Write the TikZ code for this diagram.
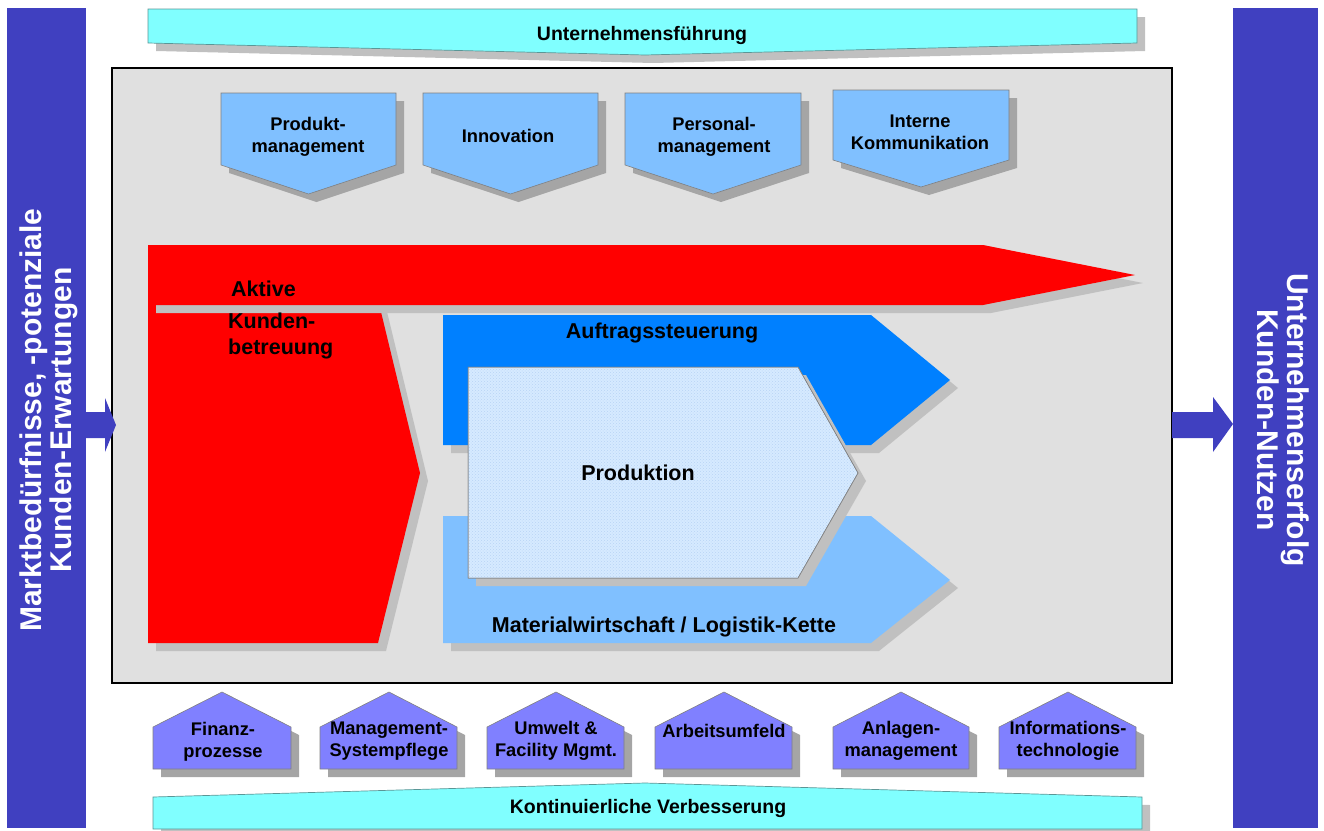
\documentclass[tikz,border=0pt]{standalone}
\usepackage{fontspec}
\setmainfont{Liberation Sans}
\usetikzlibrary{calc,patterns}
\definecolor{barblue}{RGB}{64,64,192}
\definecolor{cyanb}{RGB}{128,255,255}
\definecolor{cyanedge}{RGB}{90,150,150}
\definecolor{boxgray}{RGB}{224,224,224}
\definecolor{lblue}{RGB}{128,192,255}
\definecolor{mblue}{RGB}{0,128,255}
\definecolor{pblue}{RGB}{214,234,255}
\definecolor{pdot}{RGB}{184,212,245}
\definecolor{bpurple}{RGB}{128,128,255}
\definecolor{shadowA}{RGB}{165,165,165}
\definecolor{shadowB}{RGB}{192,192,192}
\definecolor{edgegray}{RGB}{128,128,128}
\definecolor{redA}{RGB}{255,0,0}
\newcommand{\shadowed}[3]{\fill[#1,shift={(8,8)}] #3; \path[#2] #3;}
\newcommand{\downpent}[5]{\shadowed{shadowA}{fill=lblue,draw=edgegray,line width=0.6}{(#1,#3)--(#2,#3)--(#2,#4)--({(#1+#2)/2},#5)--(#1,#4)--cycle}}
\newcommand{\uppent}[3]{\shadowed{shadowA}{fill=bpurple,draw=edgegray,line width=0.6}{(#1,769)--(#1,727)--(#3,692)--(#2,727)--(#2,769)--cycle}}
\tikzset{
  mainlbl/.style={font=\bfseries\fontsize{21.5}{26}\selectfont, align=center, inner sep=0pt},
  pentlbl/.style={font=\bfseries\fontsize{18.3}{22}\selectfont, align=center, inner sep=0pt},
  bannerlbl/.style={font=\bfseries\fontsize{19.5}{24}\selectfont, align=center, inner sep=0pt},
  bartext/.style={font=\bfseries\fontsize{30}{30}\selectfont, align=center, inner sep=0pt, text=white},
  barbox/.style={fill=barblue, inner sep=0pt, minimum width=79, minimum height=820, draw=none}
}
\begin{document}
\begin{tikzpicture}[x=1pt,y=-1pt]
\useasboundingbox (0,0) rectangle (1324,830);
% side bars
\node[barbox] (lbar) at (46.5,418) {};
\node[barbox, minimum width=85] (rbar) at (1275.5,418) {};
\node[bartext, rotate=90] (ltxt) at (48.5,420) {Marktbedürfnisse, -potenziale\\Kunden-Erwartungen};
\node[bartext, rotate=-90] (rtxt) at (1283.5,420) {Unternehmenserfolg\\Kunden-Nutzen};
% top banner
\shadowed{shadowB}{fill=cyanb,draw=cyanedge,line width=0.7}{(148,9)--(1137,9)--(1137,43)--(645,55)--(148,43)--cycle}
\node[bannerlbl] (uf) at (642,35) {Unternehmensführung};
% bottom banner
\shadowed{shadowB}{fill=cyanb,draw=cyanedge,line width=0.7}{(153,797)--(645,783)--(1142,797)--(1142,829)--(153,829)--cycle}
\node[bannerlbl] (kv) at (648,808) {Kontinuierliche Verbesserung};
% main box
\node[fill=boxgray, draw=black, line width=1.5, minimum width=1060, minimum height=615, inner sep=0pt] (box) at (642,375.5) {};
% arrows
\fill[barblue] (86,412)--(105,412)--(105,398)--(116,425)--(105,452)--(105,438)--(86,438)--cycle;
\fill[barblue] (1172,412)--(1213,412)--(1213,397)--(1233,424)--(1213,452)--(1213,438)--(1172,438)--cycle;
% top pentagons
\downpent{221}{396}{93}{165}{194}
\downpent{423}{598}{93}{165}{194}
\downpent{625}{801}{93}{165}{194}
\downpent{833}{1009}{90}{160}{187}
\node[pentlbl] (pm) at (308,137) {Produkt-\\management};
\node[pentlbl] (inn) at (508,136) {Innovation};
\node[pentlbl] (perm) at (714,137) {Personal-\\management};
\node[pentlbl] (ik) at (920,132) {Interne\\Kommunikation};
% red shapes
\shadowed{shadowB}{fill=redA}{(148,250)--(366,250)--(420,473)--(378,643)--(148,643)--cycle}
\shadowed{shadowB}{fill=redA}{(148,245)--(983,245)--(1135,275)--(983,305)--(148,305)--cycle}
\node[mainlbl, anchor=west] (akt) at (231,289) {Aktive};
\node[mainlbl, anchor=west, align=left] (kb) at (228,336) {Kunden-\\betreuung};
% blue shapes
\shadowed{shadowB}{fill=mblue}{(443,315)--(871,315)--(950,380)--(871,445)--(443,445)--cycle}
\shadowed{shadowB}{fill=lblue}{(443,516)--(871,516)--(950,580)--(871,643)--(443,643)--cycle}
\shadowed{shadowB}{fill=pblue,draw=edgegray,line width=0.5}{(468,367)--(798,367)--(858,473)--(798,578)--(468,578)--cycle}
\fill[pattern=crosshatch dots, pattern color=pdot] (468,367)--(798,367)--(858,473)--(798,578)--(468,578)--cycle;
\draw[edgegray,line width=0.5] (468,367)--(798,367)--(858,473)--(798,578)--(468,578)--cycle;
\node[mainlbl] (as) at (662,333) {Auftragssteuerung};
\node[mainlbl] (prod) at (638,473) {Produktion};
\node[mainlbl] (mat) at (664,627) {Materialwirtschaft / Logistik-Kette};
% bottom pentagons
\uppent{153}{291}{222}
\uppent{320}{457}{389}
\uppent{487}{624}{556}
\uppent{655}{792}{724}
\uppent{833}{969}{901}
\uppent{999}{1136}{1068}
\node[pentlbl] (fp) at (223,742) {Finanz-\\prozesse};
\node[pentlbl] (ms) at (389,741) {Management-\\Systempflege};
\node[pentlbl] (uw) at (556,741) {Umwelt \&\\Facility Mgmt.};
\node[pentlbl] (au) at (724,731) {Arbeitsumfeld};
\node[pentlbl] (am) at (901,741) {Anlagen-\\management};
\node[pentlbl] (it) at (1068,741) {Informations-\\technologie};
\end{tikzpicture}
\end{document}
